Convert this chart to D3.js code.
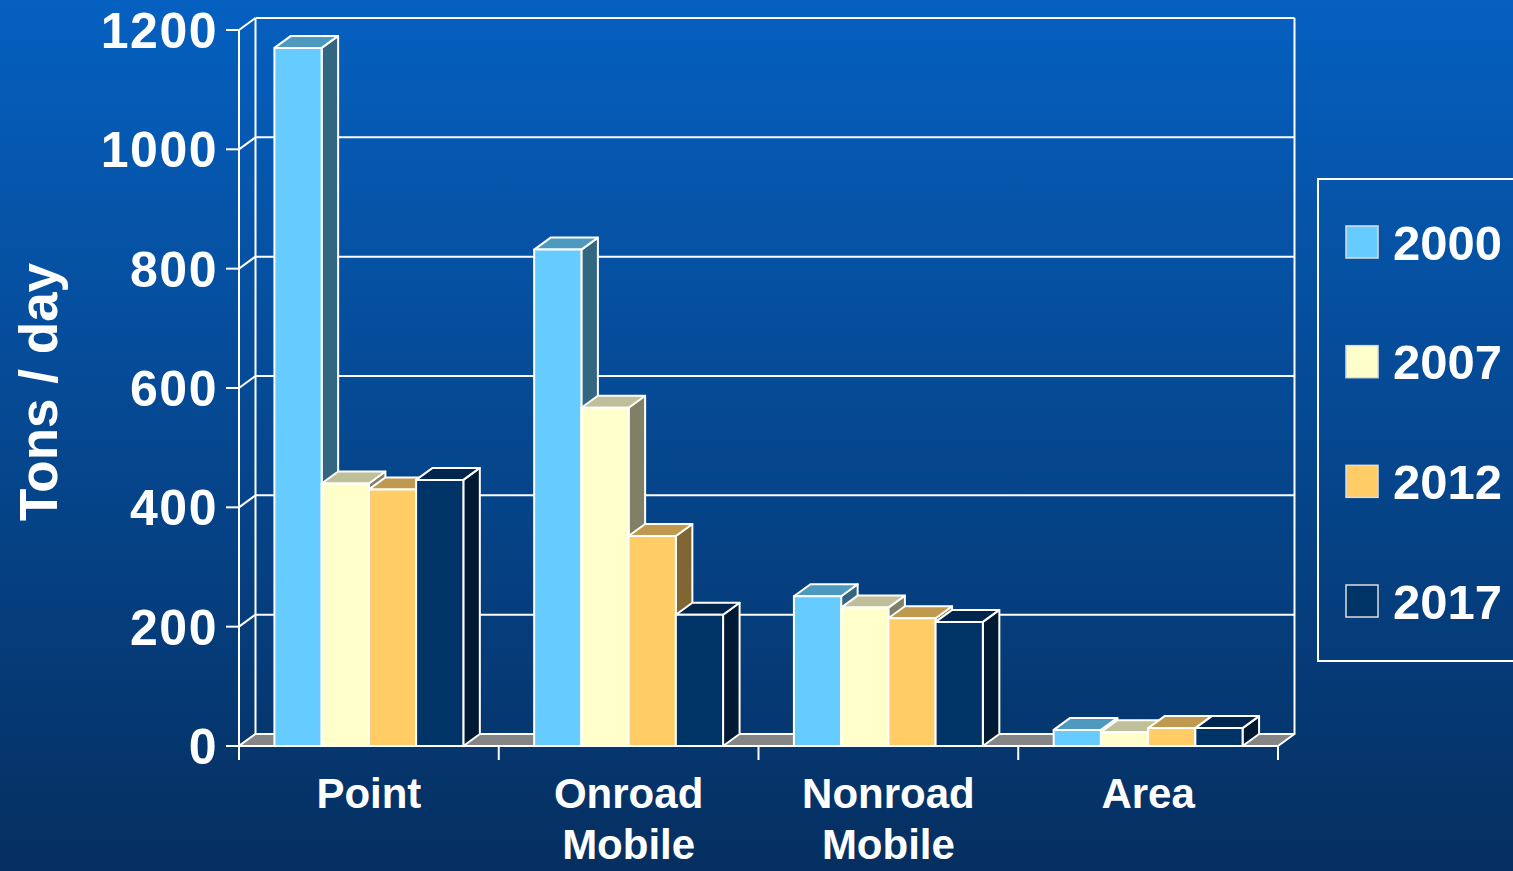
<!DOCTYPE html>
<html>
<head>
<meta charset="utf-8">
<script src="https://cdn.jsdelivr.net/npm/d3@7"></script>
<style>
html,body{margin:0;padding:0;overflow:hidden;background:#063062;}
svg{display:block;}
text{font-family:"Liberation Sans",Arial,sans-serif;font-weight:bold;fill:#fff;}
</style>
</head>
<body>
<svg id="chart" width="1513" height="871"></svg>
<script>
const categories = [["Point"], ["Onroad", "Mobile"], ["Nonroad", "Mobile"], ["Area"]];
const series = ["2000", "2007", "2012", "2017"];
const values2000 = [1170, 832, 251, 27];
const values2007 = [440, 567, 232, 23];
const values2012 = [430, 352, 214, 30];
const values2017 = [446, 220, 208, 30];
const yTicks = [0, 200, 400, 600, 800, 1000, 1200];
const yLabel = "Tons / day";
const seriesColors = ["#66CCFF", "#FFFFCC", "#FFCC66", "#003366"];

const allValues = [values2000, values2007, values2012, values2017];
const W = 1513, H = 871;
const svg = d3.select("#chart");

// background gradient
const defs = svg.append("defs");
const g = defs.append("linearGradient").attr("id","bg").attr("x1",0).attr("y1",0).attr("x2",0).attr("y2",1);
g.append("stop").attr("offset","0%").attr("stop-color","#0560C0");
g.append("stop").attr("offset","100%").attr("stop-color","#052F60");
svg.append("rect").attr("width",W).attr("height",H).attr("fill","url(#bg)");

const x0 = 239, x1 = 1278, yTop = 30, yBot = 746;
const dx = 16.5, dy = -12;
const y = d3.scaleLinear().domain([0,1200]).range([yBot, yTop]);
const catKeys = categories.map(c => c.join(" "));
const xCat = d3.scaleBand().domain(catKeys).range([x0, x1]).paddingInner(0).paddingOuter(0);
const xSer = d3.scaleBand().domain(series).range([0, xCat.bandwidth()]).paddingInner(0).paddingOuter(0.75);

const white = "#FFFFFF";

// back wall gridlines
const grid = svg.append("g");
yTicks.forEach(t => {
  grid.append("line").attr("x1", x0+dx).attr("x2", x1+dx)
    .attr("y1", y(t)+dy).attr("y2", y(t)+dy)
    .attr("stroke", white).attr("stroke-width", 2);
  grid.append("line").attr("x1", x0).attr("y1", y(t)).attr("x2", x0+dx).attr("y2", y(t)+dy)
    .attr("stroke", white).attr("stroke-width", 2);
});
grid.append("line").attr("x1", x0+dx).attr("x2", x0+dx).attr("y1", y(1200)+dy).attr("y2", y(0)+dy)
  .attr("stroke", white).attr("stroke-width", 2);
grid.append("line").attr("x1", x1+dx).attr("x2", x1+dx).attr("y1", y(1200)+dy).attr("y2", y(0)+dy)
  .attr("stroke", white).attr("stroke-width", 2);

// floor
svg.append("path")
  .attr("d", `M${x0},${yBot} L${x1},${yBot} L${x1+dx},${yBot+dy} L${x0+dx},${yBot+dy} Z`)
  .attr("fill", "#858585").attr("stroke", white).attr("stroke-width", 2).attr("stroke-linejoin","round");

// bars
function shade(c, k) {
  const r = d3.rgb(c);
  return d3.rgb(r.r*k, r.g*k, r.b*k).toString();
}
const bars = svg.append("g");
catKeys.forEach((ck, ci) => {
  series.forEach((s, si) => {
    const v = allValues[si][ci];
    const bx = xCat(ck) + xSer(s);
    const bw = xSer.bandwidth();
    const ty = y(v), by = y(0);
    const col = seriesColors[si];
    const gb = bars.append("g").attr("stroke", white).attr("stroke-width", 2).attr("stroke-linejoin","round");
    gb.append("path")
      .attr("d", `M${bx+bw},${by} L${bx+bw+dx},${by+dy} L${bx+bw+dx},${ty+dy} L${bx+bw},${ty} Z`)
      .attr("fill", shade(col, 0.5));
    gb.append("path")
      .attr("d", `M${bx},${ty} L${bx+dx},${ty+dy} L${bx+bw+dx},${ty+dy} L${bx+bw},${ty} Z`)
      .attr("fill", shade(col, 0.75));
    gb.append("rect").attr("x", bx).attr("y", ty).attr("width", bw).attr("height", by-ty)
      .attr("fill", col);
  });
});

// front y axis
const ax = svg.append("g");
ax.append("line").attr("x1", x0).attr("x2", x0).attr("y1", yTop).attr("y2", yBot+14)
  .attr("stroke", white).attr("stroke-width", 2);
yTicks.forEach(t => {
  ax.append("line").attr("x1", x0-13).attr("x2", x0).attr("y1", y(t)).attr("y2", y(t))
    .attr("stroke", white).attr("stroke-width", 2);
  ax.append("text").attr("x", 218).attr("y", y(t)).attr("dy", "0.36em")
    .attr("text-anchor", "end").attr("font-size", 50).style("letter-spacing","1.5px")
    .text(t);
});
// x axis line and ticks
ax.append("line").attr("x1", x0).attr("x2", x1).attr("y1", yBot).attr("y2", yBot)
  .attr("stroke", white).attr("stroke-width", 2);
catKeys.concat(["end"]).forEach((ck, i) => {
  const xx = i < catKeys.length ? xCat(ck) : x1;
  ax.append("line").attr("x1", xx).attr("x2", xx).attr("y1", yBot).attr("y2", yBot+14)
    .attr("stroke", white).attr("stroke-width", 2);
});
categories.forEach((lines, ci) => {
  const cx = xCat(catKeys[ci]) + xCat.bandwidth()/2;
  const t = ax.append("text").attr("x", cx).attr("y", 808).attr("text-anchor","middle").attr("font-size", 42);
  lines.forEach((ln, li) => {
    t.append("tspan").attr("x", cx).attr("dy", li === 0 ? 0 : 51).text(ln);
  });
});

// y label
svg.append("text").attr("transform", "translate(57,392) rotate(-90)")
  .attr("text-anchor","middle").attr("font-size", 53).text(yLabel);

// legend
const lg = svg.append("g");
lg.append("rect").attr("x", 1318).attr("y", 179).attr("width", 210).attr("height", 482)
  .attr("fill","none").attr("stroke", white).attr("stroke-width", 2);
const ly = d3.scalePoint().domain(series).range([242, 601]);
series.forEach((s, si) => {
  lg.append("rect").attr("x", 1346).attr("y", ly(s)-16).attr("width", 32).attr("height", 32)
    .attr("fill", seriesColors[si]).attr("stroke", "#ddd").attr("stroke-width", 1.5);
  lg.append("text").attr("x", 1393).attr("y", ly(s)).attr("dy","0.36em").attr("font-size", 49).text(s);
});
</script>
</body>
</html>
